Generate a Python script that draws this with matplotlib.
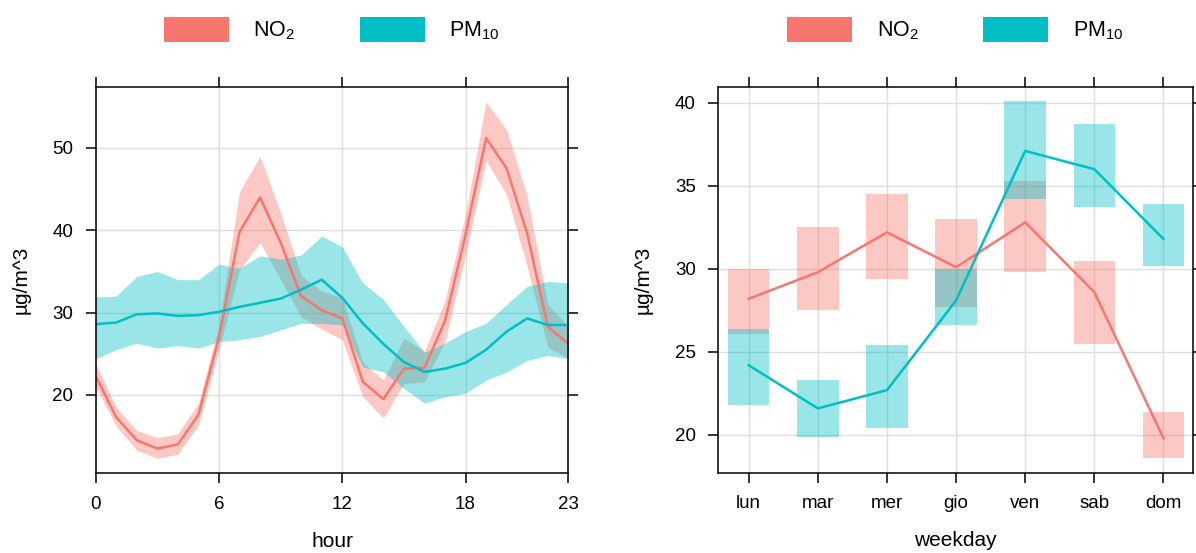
import matplotlib
matplotlib.use("Agg")
import matplotlib.pyplot as plt
import numpy as np
from matplotlib.patches import Patch

plt.rcParams["font.family"] = ["Liberation Sans", "DejaVu Sans"]
plt.rcParams["mathtext.default"] = "regular"

# ── data ────────────────────────────────────────────────────────────────────
hours = list(range(24))
no2 = [22.3, 17.3, 14.5, 13.5, 14.0, 17.6, 27.0, 39.8, 44.0, 38.5, 32.0, 30.3,
       29.3, 21.6, 19.5, 23.2, 23.3, 29.0, 39.5, 51.2, 47.5, 39.6, 28.3, 26.2]
no2_lo = [21.0, 16.2, 13.3, 12.3, 12.8, 16.3, 25.5, 35.2, 38.5, 34.0, 29.5, 28.0,
          26.7, 19.8, 17.2, 21.4, 21.6, 26.5, 37.0, 48.5, 44.3, 35.6, 25.8, 24.5]
no2_hi = [23.8, 18.5, 15.7, 14.8, 15.3, 19.0, 28.5, 44.7, 49.0, 42.1, 34.5, 32.6,
          31.8, 24.0, 21.8, 26.9, 25.3, 31.5, 42.0, 55.6, 52.2, 44.1, 31.0, 28.3]
pm10 = [28.6, 28.8, 29.8, 29.9, 29.6, 29.7, 30.1, 30.7, 31.2, 31.7, 32.8, 34.0,
        31.8, 28.7, 26.2, 24.0, 22.8, 23.2, 23.9, 25.5, 27.7, 29.3, 28.5, 28.5]
pm10_lo = [24.4, 25.5, 26.3, 25.7, 26.0, 25.7, 26.5, 26.7, 27.1, 27.9, 28.7, 28.7,
           28.5, 23.4, 22.8, 20.8, 19.0, 19.8, 20.2, 21.8, 22.8, 24.2, 24.8, 24.4]
pm10_hi = [31.9, 32.0, 34.4, 35.0, 34.0, 34.0, 35.9, 35.4, 36.9, 36.5, 37.0, 39.3,
           38.0, 33.6, 31.6, 28.3, 25.2, 26.3, 27.7, 28.7, 31.0, 33.2, 33.8, 33.6]

days = ["lun", "mar", "mer", "gio", "ven", "sab", "dom"]
no2_day = [28.2, 29.8, 32.2, 30.1, 32.8, 28.6, 19.8]
no2_day_lo = [26.1, 27.5, 29.4, 27.7, 29.8, 25.5, 18.6]
no2_day_hi = [30.0, 32.5, 34.5, 33.0, 35.3, 30.5, 21.4]
pm10_day = [24.2, 21.6, 22.7, 28.1, 37.1, 36.0, 31.8]
pm10_day_lo = [21.8, 19.9, 20.4, 26.6, 34.2, 33.7, 30.2]
pm10_day_hi = [26.4, 23.3, 25.4, 30.0, 40.1, 38.7, 33.9]

RED = "#F8766D"
TEAL = "#00BFC4"
labels = [r"NO$_2$", r"PM$_{10}$"]

# ── figure ──────────────────────────────────────────────────────────────────
W, H = 1196, 553
fig = plt.figure(figsize=(W / 100, H / 100), dpi=100)
ax1 = fig.add_axes([95.7 / W, 1 - 473.3 / H, 472.6 / W, 385.9 / H])
ax2 = fig.add_axes([718 / W, 1 - 472.7 / H, 474.5 / W, 385.4 / H])


def style(ax):
    ax.set_axisbelow(True)
    ax.grid(True, color="#DEDEDE", lw=1.0)
    for s in ax.spines.values():
        s.set_linewidth(1.1)
    ax.tick_params(which="both", direction="out", length=7, width=1.1,
                   top=True, right=True, labeltop=False, labelright=False,
                   pad=9, labelsize=13.5, colors="black")
    ax.set_ylabel("µg/m^3", fontsize=15, labelpad=16)


def add_legend(ax):
    handles = [Patch(facecolor=RED, edgecolor="none"),
               Patch(facecolor=TEAL, edgecolor="none")]
    ax.legend(handles, labels, loc="center", bbox_to_anchor=(0.5, 1.149),
              ncol=2, frameon=False, fontsize=15.5, handlelength=3.0,
              handleheight=1.35, handletextpad=1.15, columnspacing=3.0)


# hour panel
ax1.fill_between(hours, no2_lo, no2_hi, color=RED, alpha=0.4, lw=0)
ax1.plot(hours, no2, color=RED, lw=1.8)
ax1.fill_between(hours, pm10_lo, pm10_hi, color=TEAL, alpha=0.4, lw=0)
ax1.plot(hours, pm10, color=TEAL, lw=1.8)
ax1.set_xlim(0, 23)
ax1.set_ylim(10.49, 57.35)
ax1.set_xticks([0, 6, 12, 18, 23])
ax1.set_yticks([20, 30, 40, 50])
style(ax1)
ax1.set_xlabel("hour", fontsize=15, labelpad=14)
add_legend(ax1)

# weekday panel
x = np.arange(1, len(days) + 1)
ax2.bar(x, np.subtract(no2_day_hi, no2_day_lo), bottom=no2_day_lo, width=0.6,
        color=RED, alpha=0.4, lw=0)
ax2.plot(x, no2_day, color=RED, lw=1.8)
ax2.bar(x, np.subtract(pm10_day_hi, pm10_day_lo), bottom=pm10_day_lo, width=0.6,
        color=TEAL, alpha=0.4, lw=0)
ax2.plot(x, pm10_day, color=TEAL, lw=1.8)
ax2.set_xlim(0.556, 7.42)
ax2.set_ylim(17.73, 40.93)
ax2.set_xticks(x)
ax2.set_xticklabels(days)
ax2.set_yticks([20, 25, 30, 35, 40])
style(ax2)
ax2.set_xlabel("weekday", fontsize=15, labelpad=14)
add_legend(ax2)

fig.savefig("out.png", dpi=100)
